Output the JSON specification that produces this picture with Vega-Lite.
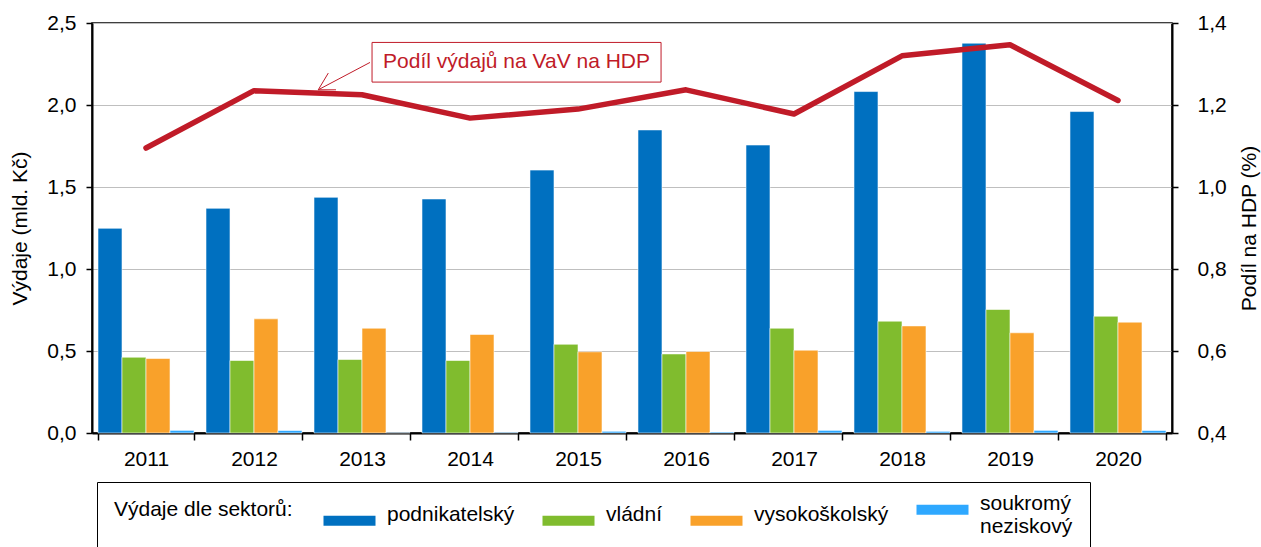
{
  "$schema": "https://vega.github.io/schema/vega-lite/v6.json",
  "width": 1080,
  "height": 410,
  "autosize": {"type": "none"},
  "padding": {"left": 92, "top": 23, "right": 89, "bottom": 114},
  "datasets": {
    "vydaje": [
      {"year": "2011", "sector": "podnikatelský", "value": 1.248},
      {"year": "2011", "sector": "vládní", "value": 0.462},
      {"year": "2011", "sector": "vysokoškolský", "value": 0.454},
      {"year": "2011", "sector": "soukromý neziskový", "value": 0.016},
      {"year": "2012", "sector": "podnikatelský", "value": 1.370},
      {"year": "2012", "sector": "vládní", "value": 0.442},
      {"year": "2012", "sector": "vysokoškolský", "value": 0.696},
      {"year": "2012", "sector": "soukromý neziskový", "value": 0.015},
      {"year": "2013", "sector": "podnikatelský", "value": 1.437},
      {"year": "2013", "sector": "vládní", "value": 0.448},
      {"year": "2013", "sector": "vysokoškolský", "value": 0.639},
      {"year": "2013", "sector": "soukromý neziskový", "value": 0.002},
      {"year": "2014", "sector": "podnikatelský", "value": 1.427},
      {"year": "2014", "sector": "vládní", "value": 0.442},
      {"year": "2014", "sector": "vysokoškolský", "value": 0.601},
      {"year": "2014", "sector": "soukromý neziskový", "value": 0.004},
      {"year": "2015", "sector": "podnikatelský", "value": 1.603},
      {"year": "2015", "sector": "vládní", "value": 0.541},
      {"year": "2015", "sector": "vysokoškolský", "value": 0.495},
      {"year": "2015", "sector": "soukromý neziskový", "value": 0.010},
      {"year": "2016", "sector": "podnikatelský", "value": 1.848},
      {"year": "2016", "sector": "vládní", "value": 0.482},
      {"year": "2016", "sector": "vysokoškolský", "value": 0.497},
      {"year": "2016", "sector": "soukromý neziskový", "value": 0.006},
      {"year": "2017", "sector": "podnikatelský", "value": 1.756},
      {"year": "2017", "sector": "vládní", "value": 0.639},
      {"year": "2017", "sector": "vysokoškolský", "value": 0.505},
      {"year": "2017", "sector": "soukromý neziskový", "value": 0.016},
      {"year": "2018", "sector": "podnikatelský", "value": 2.082},
      {"year": "2018", "sector": "vládní", "value": 0.682},
      {"year": "2018", "sector": "vysokoškolský", "value": 0.653},
      {"year": "2018", "sector": "soukromý neziskový", "value": 0.010},
      {"year": "2019", "sector": "podnikatelský", "value": 2.377},
      {"year": "2019", "sector": "vládní", "value": 0.753},
      {"year": "2019", "sector": "vysokoškolský", "value": 0.611},
      {"year": "2019", "sector": "soukromý neziskový", "value": 0.016},
      {"year": "2020", "sector": "podnikatelský", "value": 1.960},
      {"year": "2020", "sector": "vládní", "value": 0.712},
      {"year": "2020", "sector": "vysokoškolský", "value": 0.676},
      {"year": "2020", "sector": "soukromý neziskový", "value": 0.015}
    ],
    "hdp": [
      {"year": "2011", "share": 1.095},
      {"year": "2012", "share": 1.235},
      {"year": "2013", "share": 1.225},
      {"year": "2014", "share": 1.168},
      {"year": "2015", "share": 1.190},
      {"year": "2016", "share": 1.237},
      {"year": "2017", "share": 1.178},
      {"year": "2018", "share": 1.320},
      {"year": "2019", "share": 1.347},
      {"year": "2020", "share": 1.211}
    ]
  },
  "config": {
    "font": "Liberation Sans",
    "view": {"stroke": "#000000", "strokeWidth": 1.5},
    "axis": {
      "domainColor": "#000000",
      "domainWidth": 2,
      "tickColor": "#000000",
      "tickWidth": 1.5,
      "labelColor": "#000000",
      "titleColor": "#000000",
      "labelFont": "Liberation Sans",
      "titleFont": "Liberation Sans",
      "labelFontSize": 21,
      "titleFontSize": 21,
      "titleFontWeight": "normal"
    },
    "legend": {
      "labelFont": "Liberation Sans",
      "titleFont": "Liberation Sans",
      "labelColor": "#000000",
      "titleColor": "#000000"
    }
  },
  "layer": [
    {
      "data": {"name": "vydaje"},
      "mark": {"type": "bar", "stroke": "#ffffff", "strokeWidth": 0.7, "strokeOpacity": 0.8},
      "encoding": {
        "x": {
          "field": "year",
          "type": "ordinal",
          "scale": {"paddingInner": 0.111, "paddingOuter": 0.0556},
          "axis": {"title": null, "tickBand": "extent", "labelAngle": 0, "tickSize": 7, "labelPadding": 8, "grid": false}
        },
        "xOffset": {
          "field": "sector",
          "sort": ["podnikatelský", "vládní", "vysokoškolský", "soukromý neziskový"],
          "scale": {"paddingInner": 0, "paddingOuter": 0}
        },
        "y": {
          "field": "value",
          "type": "quantitative",
          "scale": {"domain": [0, 2.5], "nice": false},
          "axis": {
            "title": "Výdaje (mld. Kč)",
            "values": [0, 0.5, 1, 1.5, 2, 2.5],
            "labelExpr": "replace(format(datum.value, '.1f'), '.', ',')",
            "grid": true,
            "gridColor": "#BFBFBF",
            "gridWidth": 1,
            "tickSize": 6,
            "labelPadding": 10,
            "titlePadding": 16
          }
        },
        "color": {
          "field": "sector",
          "type": "nominal",
          "sort": ["podnikatelský", "vládní", "vysokoškolský", "soukromý neziskový"],
          "scale": {
            "domain": ["podnikatelský", "vládní", "vysokoškolský", "soukromý neziskový"],
            "range": ["#0070C0", "#80BC2E", "#F9A12A", "#2EA8FF"]
          },
          "legend": {
            "orient": "none",
            "legendX": 5,
            "legendY": 459,
            "direction": "horizontal",
            "columns": 4,
            "title": "Výdaje dle sektorů:",
            "titleOrient": "left",
            "titleAnchor": "start",
            "titleBaseline": "top",
            "titlePadding": 25,
            "titleFontSize": 21,
            "titleFontWeight": "normal",
            "columnPadding": 22,
            "labelOffset": 48,
            "labelFontSize": 21,
            "labelLimit": 400,
            "labelBaseline": "alphabetic",
            "symbolType": "M-1,-1L9.4,-1L9.4,1L-1,1Z",
            "symbolSize": 100,
            "symbolStrokeWidth": 0,
            "strokeColor": "#000000",
            "padding": 17,
            "labelExpr": "datum.label == 'soukromý neziskový' ? ['soukromý', 'neziskový'] : datum.label",
            "encode": {
              "labels": {
                "dy": {"signal": "datum.value === 'soukromý neziskový' ? 32 : 7"},
                "lineHeight": {"value": 25}
              }
            }
          }
        }
      }
    },
    {
      "data": {"name": "hdp"},
      "mark": {"type": "line", "color": "#C01B28", "strokeWidth": 5.5, "strokeCap": "round", "strokeJoin": "round"},
      "encoding": {
        "x": {"field": "year", "type": "ordinal", "scale": {"type": "point", "padding": 0.5}, "axis": null},
        "y": {
          "field": "share",
          "type": "quantitative",
          "scale": {"domain": [0.4, 1.4], "nice": false, "zero": false},
          "axis": {
            "orient": "right",
            "title": "Podíl na HDP (%)",
            "titleAngle": 270,
            "titleBaseline": "top",
            "values": [0.4, 0.6, 0.8, 1.0, 1.2, 1.4],
            "labelExpr": "replace(format(datum.value, '.1f'), '.', ',')",
            "grid": false,
            "tickSize": 6,
            "labelPadding": 19,
            "titlePadding": 12
          }
        }
      }
    },
    {
      "data": {"values": [{}]},
      "layer": [
        {
          "mark": {"type": "rect", "fill": "#ffffff", "stroke": "#C01B28", "strokeWidth": 1},
          "encoding": {
            "x": {"datum": 2.593, "type": "quantitative", "scale": {"domain": [0, 10], "nice": false, "zero": false}, "axis": null},
            "x2": {"datum": 5.269},
            "y": {"datum": 1.3526, "type": "quantitative", "scale": {"domain": [0.4, 1.4], "nice": false, "zero": false}, "axis": null},
            "y2": {"datum": 1.2559}
          }
        },
        {
          "mark": {"type": "text", "text": "Podíl výdajů na VaV na HDP", "color": "#C01B28", "fontSize": 21, "font": "Liberation Sans", "align": "center", "baseline": "middle"},
          "encoding": {
            "x": {"datum": 3.931, "type": "quantitative", "axis": null},
            "y": {"datum": 1.3043, "type": "quantitative", "axis": null}
          }
        },
        {
          "mark": {"type": "rule", "color": "#C01B28", "strokeWidth": 1},
          "encoding": {
            "x": {"datum": 2.574, "type": "quantitative", "axis": null},
            "x2": {"datum": 2.095},
            "y": {"datum": 1.3038, "type": "quantitative", "axis": null},
            "y2": {"datum": 1.2371}
          }
        },
        {
          "mark": {"type": "rule", "color": "#C01B28", "strokeWidth": 1},
          "encoding": {
            "x": {"datum": 2.095, "type": "quantitative", "axis": null},
            "x2": {"datum": 2.188},
            "y": {"datum": 1.2371, "type": "quantitative", "axis": null},
            "y2": {"datum": 1.2779}
          }
        },
        {
          "mark": {"type": "rule", "color": "#C01B28", "strokeWidth": 1},
          "encoding": {
            "x": {"datum": 2.095, "type": "quantitative", "axis": null},
            "x2": {"datum": 2.259},
            "y": {"datum": 1.2371, "type": "quantitative", "axis": null},
            "y2": {"datum": 1.2371}
          }
        }
      ]
    }
  ],
  "resolve": {"scale": {"x": "independent", "y": "independent"}}
}
